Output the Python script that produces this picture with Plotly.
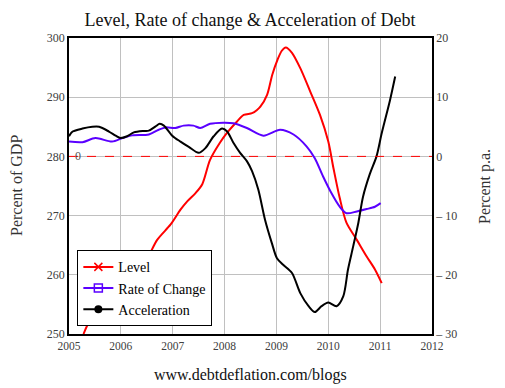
import plotly.graph_objects as go

# ---- data ----
level_x = [2005.28, 2005.38, 2005.6, 2005.8, 2006.0, 2006.2, 2006.47, 2006.70, 2006.96, 2007.15,
           2007.28, 2007.44, 2007.57, 2007.72, 2007.91, 2008.05, 2008.24, 2008.37, 2008.53, 2008.62,
           2008.69, 2008.82, 2008.92, 2009.02, 2009.10, 2009.18, 2009.30, 2009.46, 2009.65, 2009.84,
           2010.0, 2010.10, 2010.22, 2010.35, 2010.55, 2010.74, 2010.90, 2011.03]
level_y = [250, 251.9, 254.3, 256.4, 258.3, 260.0, 262.2, 265.9, 268.5, 271.0,
           272.4, 273.8, 275.3, 279.4, 282.3, 284.0, 285.9, 287.0, 287.3, 287.8,
           288.4, 290.4, 293.8, 296.3, 297.8, 298.4, 297.5, 294.9, 291.0, 287.0,
           282.5, 278.0, 273.0, 268.8, 265.9, 263.1, 260.9, 258.6]

rate_x = [2005.0, 2005.26, 2005.51, 2005.83, 2006.03, 2006.22, 2006.54, 2006.73, 2006.86, 2007.05,
          2007.21, 2007.40, 2007.53, 2007.72, 2007.98, 2008.17, 2008.43, 2008.75, 2009.07, 2009.33,
          2009.58, 2009.74, 2009.90, 2010.06, 2010.22, 2010.35, 2010.55, 2010.74, 2010.90, 2011.01]
rate_y = [2.5, 2.4, 3.1, 2.5, 3.1, 3.55, 3.7, 4.5, 4.9, 4.8,
          5.2, 5.2, 4.8, 5.5, 5.7, 5.6, 4.8, 3.5, 4.5, 3.7,
          1.7, -0.3, -3.4, -6.2, -8.5, -9.6, -9.3, -8.9, -8.5, -7.9]

accel_x = [2005.0, 2005.07, 2005.26, 2005.45, 2005.58, 2005.77, 2005.90, 2005.99, 2006.12, 2006.25,
           2006.44, 2006.54, 2006.67, 2006.75, 2006.83, 2006.99, 2007.15, 2007.31, 2007.50, 2007.63,
           2007.79, 2007.95, 2008.05, 2008.17, 2008.30, 2008.43, 2008.53, 2008.65, 2008.78, 2008.91,
           2009.01, 2009.13, 2009.30, 2009.46, 2009.62, 2009.74, 2009.87, 2010.0, 2010.16, 2010.29,
           2010.38, 2010.48, 2010.58, 2010.67, 2010.80, 2010.93, 2011.03, 2011.19, 2011.29]
accel_y = [3.4, 4.2, 4.7, 5.0, 5.0, 4.2, 3.5, 3.1, 3.4, 4.05,
           4.3, 4.35, 5.07, 5.5, 5.2, 3.5, 2.5, 1.6, 0.6, 1.4,
           3.4, 4.7, 4.2, 2.3, 0.6, -0.8, -2.5, -5.6, -10.7, -14.6,
           -17.2, -18.3, -19.7, -23.1, -25.3, -26.3, -25.3, -24.7, -25.3, -23.6,
           -19.1, -15.2, -11.2, -6.8, -3.0, 0.0, 3.9, 9.5, 13.5]

x_ticks = [2005, 2006, 2007, 2008, 2009, 2010, 2011, 2012]
left_ticks = [250, 260, 270, 280, 290, 300]
right_ticks = [-30, -20, -10, 0, 10, 20]
right_tick_text = ["\u2013 30", "\u2013 20", "\u2013 10", "0", "10", "20"]

RED = "#ff0000"
BLUE = "#5a00ff"
BLACK = "#000000"
SERIF = "Liberation Serif"
TICKC = "#404040"

fig = go.Figure()

fig.add_trace(go.Scatter(x=rate_x, y=rate_y, yaxis="y2", mode="lines", showlegend=False,
                         line=dict(color=BLUE, width=2, shape="spline", smoothing=0.8)))
fig.add_trace(go.Scatter(x=accel_x, y=accel_y, yaxis="y2", mode="lines", showlegend=False,
                         line=dict(color=BLACK, width=2, shape="spline", smoothing=0.8)))
fig.add_trace(go.Scatter(x=level_x, y=level_y, yaxis="y", mode="lines", showlegend=False,
                         line=dict(color=RED, width=2, shape="spline", smoothing=0.8)))

# legend entries
fig.add_trace(go.Scatter(x=[None], y=[None], mode="lines+markers", name="Level",
                         line=dict(color=RED, width=2),
                         marker=dict(symbol="x-thin", size=8, line=dict(color=RED, width=1.5))))
fig.add_trace(go.Scatter(x=[None], y=[None], mode="lines+markers", name="Rate of Change",
                         line=dict(color=BLUE, width=2),
                         marker=dict(symbol="square-open", size=8, color=BLUE, line=dict(width=1.5))))
fig.add_trace(go.Scatter(x=[None], y=[None], mode="lines+markers", name="Acceleration",
                         line=dict(color=BLACK, width=2),
                         marker=dict(symbol="circle", size=8, color=BLACK)))

fig.add_shape(type="line", xref="paper", x0=0, x1=1, yref="y2", y0=0, y1=0,
              line=dict(color=RED, width=1, dash="dash"), layer="above")

fig.update_layout(
    width=497, height=380,
    margin=dict(l=61, r=73, t=30, b=54),
    paper_bgcolor="white", plot_bgcolor="white",
    font=dict(family=SERIF, color=TICKC),
    title=dict(text="Level, Rate of change & Acceleration of Debt",
               font=dict(family=SERIF, size=18, color="#111111"),
               x=0.487, xanchor="center", y=0.968, yanchor="middle"),
    xaxis=dict(range=[2005, 2012], tickvals=x_ticks, ticks="", showgrid=True,
               gridcolor="#c0c0c0", gridwidth=1, showline=True, mirror=True,
               linecolor="black", linewidth=1.5, zeroline=False,
               tickfont=dict(family=SERIF, size=11.5, color=TICKC)),
    yaxis=dict(range=[250, 300], tickvals=left_ticks, ticks="", showgrid=True,
               gridcolor="#c0c0c0", gridwidth=1, showline=True, mirror=True,
               linecolor="black", linewidth=1.5, zeroline=False,
               tickfont=dict(family=SERIF, size=12, color=TICKC)),
    yaxis2=dict(range=[-30, 20], tickvals=right_ticks, ticktext=right_tick_text,
                overlaying="y", side="right", ticks="", showgrid=False,
                showline=True, linecolor="black", linewidth=1.5, zeroline=False,
                tickfont=dict(family=SERIF, size=12, color=TICKC)),
    legend=dict(x=0.023, y=0.026, xanchor="left", yanchor="bottom",
                bgcolor="white", bordercolor="black", borderwidth=1,
                font=dict(family=SERIF, size=14, color="#000000"),
                itemwidth=30, tracegroupgap=0),
    annotations=[
        dict(text="Percent of GDP", xref="paper", yref="paper", x=-0.146, y=0.5,
             xanchor="center", yanchor="middle",
             textangle=-90, showarrow=False, font=dict(family=SERIF, size=16, color="#333333")),
        dict(text="Percent p.a.", xref="paper", yref="paper", x=1.146, y=0.5,
             xanchor="center", yanchor="middle",
             textangle=-90, showarrow=False, font=dict(family=SERIF, size=16, color="#333333")),
        dict(text="www.debtdeflation.com/blogs", xref="paper", yref="paper",
             x=0.5, y=-0.138, xanchor="center", yanchor="middle", showarrow=False,
             font=dict(family=SERIF, size=16, color="#111111")),
        dict(text="0", x=2005.17, y=0, xref="x", yref="y2", showarrow=False,
             font=dict(family=SERIF, size=12, color="#555555")),
    ],
)

fig.write_html("out.html")
